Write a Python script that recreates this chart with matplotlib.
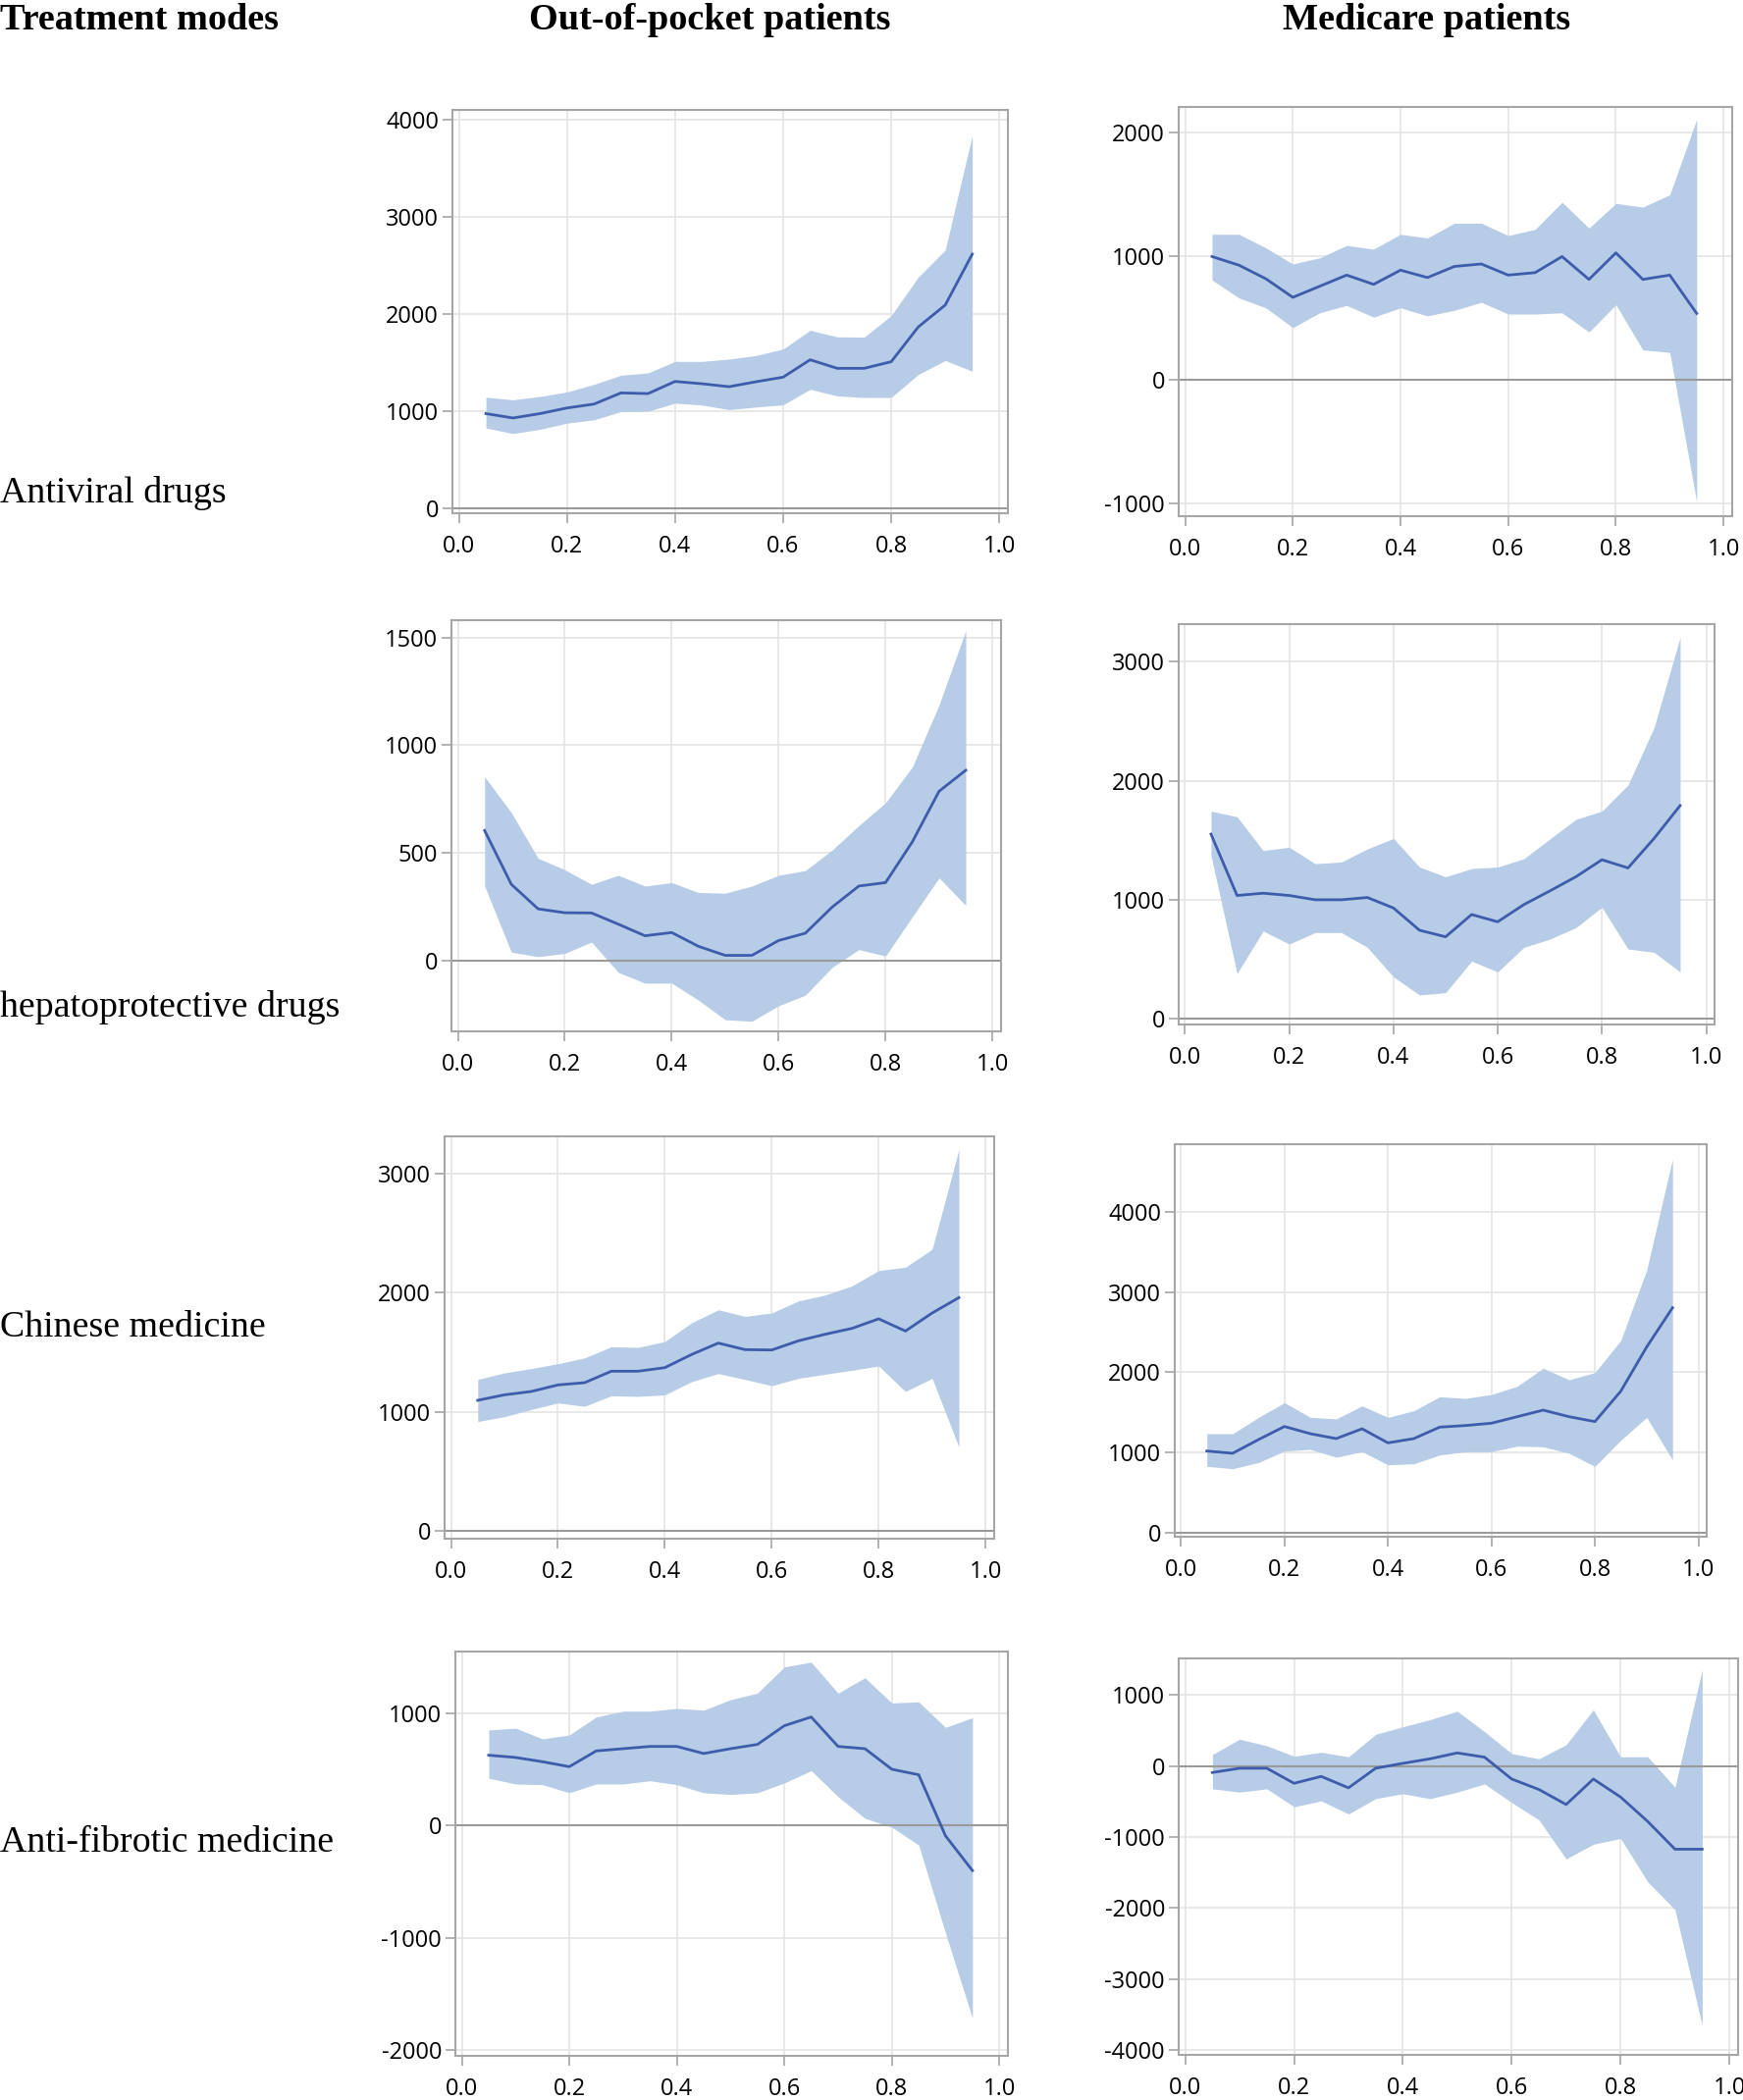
import matplotlib
matplotlib.use("Agg")
import matplotlib.pyplot as plt
from matplotlib.ticker import FormatStrFormatter

plt.rcParams['axes.unicode_minus'] = False

# quantile grid shared by all panels
quantiles = [0.05, 0.10, 0.15, 0.20, 0.25, 0.30, 0.35, 0.40, 0.45, 0.50,
             0.55, 0.60, 0.65, 0.70, 0.75, 0.80, 0.85, 0.90, 0.95]

col_titles = ["Out-of-pocket patients", "Medicare patients"]
row_titles = ["Antiviral drugs", "hepatoprotective drugs", "Chinese medicine", "Anti-fibrotic medicine"]

# Antiviral drugs, out-of-pocket
av_oop_mid = [975, 930, 975, 1033, 1073, 1188, 1181, 1306, 1282, 1252,
              1303, 1350, 1529, 1441, 1441, 1509, 1866, 2092, 2616]
av_oop_hi = [1144, 1117, 1151, 1198, 1276, 1370, 1394, 1512, 1512, 1536,
             1573, 1640, 1833, 1765, 1762, 1984, 2379, 2659, 3840]
av_oop_lo = [827, 770, 813, 877, 911, 996, 999, 1083, 1063, 1016,
             1043, 1066, 1225, 1157, 1141, 1141, 1377, 1522, 1411]

# Antiviral drugs, medicare
av_med_mid = [1000, 930, 820, 670, 760, 850, 775, 890, 830, 920,
              940, 850, 870, 1000, 815, 1030, 815, 850, 540]
av_med_hi = [1180, 1180, 1070, 940, 990, 1090, 1060, 1180, 1150, 1270,
             1270, 1170, 1220, 1440, 1230, 1430, 1400, 1500, 2110]
av_med_lo = [810, 665, 585, 425, 545, 605, 510, 585, 520, 565,
             630, 535, 535, 545, 390, 610, 245, 225, -985]

# Hepatoprotective drugs, out-of-pocket
hp_oop_mid = [603, 353, 239, 221, 220, 168, 114, 129, 65, 23,
              23, 92, 126, 247, 345, 361, 550, 785, 883]
hp_oop_hi = [853, 686, 474, 421, 353, 395, 345, 361, 315, 312,
             345, 395, 417, 512, 626, 732, 898, 1186, 1532]
hp_oop_lo = [345, 38, 17, 32, 85, -56, -106, -106, -185, -276,
             -283, -211, -162, -33, 50, 20, 202, 383, 255]

# Hepatoprotective drugs, medicare
hp_med_mid = [1551, 1036, 1055, 1036, 1000, 1000, 1019, 931, 744, 689,
              876, 815, 959, 1074, 1193, 1336, 1267, 1515, 1791]
hp_med_hi = [1744, 1697, 1413, 1441, 1303, 1317, 1427, 1515, 1275, 1193,
             1262, 1275, 1344, 1510, 1675, 1744, 1964, 2446, 3204]
hp_med_lo = [1372, 380, 738, 628, 725, 725, 600, 353, 201, 220,
             485, 394, 600, 669, 766, 937, 587, 559, 394]

# Chinese medicine, out-of-pocket
cm_oop_mid = [1097, 1143, 1171, 1226, 1245, 1341, 1341, 1371, 1481, 1577,
              1522, 1519, 1596, 1651, 1700, 1780, 1678, 1829, 1958]
cm_oop_hi = [1272, 1327, 1363, 1404, 1453, 1546, 1541, 1590, 1747, 1856,
             1801, 1829, 1930, 1980, 2056, 2185, 2213, 2364, 3200]
cm_oop_lo = [919, 960, 1020, 1075, 1047, 1135, 1130, 1143, 1253, 1322,
             1272, 1220, 1281, 1316, 1349, 1385, 1171, 1281, 705]

# Chinese medicine, medicare
cm_med_mid = [1019, 991, 1162, 1325, 1235, 1174, 1296, 1121, 1174, 1317,
              1337, 1366, 1447, 1529, 1447, 1386, 1765, 2316, 2805]
cm_med_hi = [1235, 1235, 1439, 1622, 1439, 1419, 1582, 1439, 1521, 1696,
             1675, 1724, 1826, 2051, 1908, 1997, 2397, 3273, 4660]
cm_med_lo = [828, 799, 876, 1019, 1040, 942, 1011, 848, 860, 970,
             1011, 1011, 1080, 1072, 991, 828, 1154, 1439, 909]

# Anti-fibrotic medicine, out-of-pocket
af_oop_mid = [625, 605, 567, 523, 663, 683, 703, 703, 640, 683,
              721, 887, 965, 703, 683, 500, 451, -93, -401]
af_oop_hi = [849, 866, 770, 805, 965, 1017, 1017, 1041, 1026, 1119,
             1177, 1410, 1453, 1177, 1314, 1090, 1099, 872, 959]
af_oop_lo = [421, 369, 363, 291, 369, 369, 398, 363, 291, 276,
             291, 378, 488, 256, 64, -15, -174, -959, -1715]

# Anti-fibrotic medicine, medicare
af_med_mid = [-92, -32, -32, -244, -147, -308, -32, 37, 101, 184,
              124, -184, -331, -543, -184, -437, -782, -1172, -1172]
af_med_hi = [161, 377, 285, 138, 193, 129, 446, 552, 653, 772,
             483, 175, 101, 299, 791, 129, 129, -299, 1356]
af_med_lo = [-322, -368, -322, -575, -492, -676, -460, -391, -460, -368,
             -253, -515, -759, -1310, -1103, -1021, -1632, -2023, -3655]

av_oop_ticks = [0, 1000, 2000, 3000, 4000]
av_med_ticks = [-1000, 0, 1000, 2000]
hp_oop_ticks = [0, 500, 1000, 1500]
hp_med_ticks = [0, 1000, 2000, 3000]
cm_oop_ticks = [0, 1000, 2000, 3000]
cm_med_ticks = [0, 1000, 2000, 3000, 4000]
af_oop_ticks = [-2000, -1000, 0, 1000]
af_med_ticks = [-4000, -3000, -2000, -1000, 0, 1000]
x_ticks = [0.0, 0.2, 0.4, 0.6, 0.8, 1.0]

W, H = 1776, 2140
fig = plt.figure(figsize=(W / 100, H / 100), dpi=100)

band_color = '#b7cce6'
line_color = '#3d5cab'
frame_color = '#a6a6a6'
grid_color = '#e4e4e4'

# panels: data, y ticks, y limits, frame box in pixels (left, top, right, bottom)
panels = [
    (av_oop_mid, av_oop_lo, av_oop_hi, av_oop_ticks, (-50, 4100), (461, 112, 1027, 523)),
    (av_med_mid, av_med_lo, av_med_hi, av_med_ticks, (-1100, 2210), (1201, 109, 1765, 526)),
    (hp_oop_mid, hp_oop_lo, hp_oop_hi, hp_oop_ticks, (-330, 1580), (460, 632, 1020, 1051)),
    (hp_med_mid, hp_med_lo, hp_med_hi, hp_med_ticks, (-47, 3314), (1201, 636, 1747, 1044)),
    (cm_oop_mid, cm_oop_lo, cm_oop_hi, cm_oop_ticks, (-63, 3310), (453, 1158, 1013, 1568)),
    (cm_med_mid, cm_med_lo, cm_med_hi, cm_med_ticks, (-49, 4843), (1197, 1166, 1739, 1566)),
    (af_oop_mid, af_oop_lo, af_oop_hi, af_oop_ticks, (-2049, 1547), (464, 1683, 1027, 2095)),
    (af_med_mid, af_med_lo, af_med_hi, af_med_ticks, (-4069, 1515), (1201, 1690, 1771, 2094)),
]

for mid, lo, hi, yticks, ylim, box in panels:
    l, t, r, b = box
    ax = fig.add_axes([l / W, 1 - b / H, (r - l) / W, (b - t) / H])
    ax.fill_between(quantiles, lo, hi, color=band_color, linewidth=0, zorder=2)
    ax.plot(quantiles, mid, color=line_color, linewidth=2.0, zorder=3)
    ax.axhline(0, color='#9a9a9a', linewidth=1.5, zorder=2.5)
    ax.set_xlim(-0.012, 1.016)
    ax.set_ylim(*ylim)
    ax.set_xticks(x_ticks)
    ax.set_yticks(yticks)
    ax.xaxis.set_major_formatter(FormatStrFormatter('%.1f'))
    ax.grid(True, color=grid_color, linewidth=1.2, zorder=0)
    ax.set_axisbelow(True)
    for sp in ax.spines.values():
        sp.set_color(frame_color)
        sp.set_linewidth(1.5)
    ax.tick_params(axis='both', direction='out', length=7, width=1.2,
                   color=frame_color, labelsize=17, labelcolor='black')
    ax.tick_params(axis='x', pad=9)
    ax.tick_params(axis='y', pad=3)
    for lab in ax.get_xticklabels() + ax.get_yticklabels():
        lab.set_family('Open Sans')

# column and row headings
fig.text(0 / W, 1 - 20 / H, "Treatment modes", family='Liberation Serif',
         weight='bold', fontsize=27.5, ha='left', va='center')
fig.text(723 / W, 1 - 20 / H, col_titles[0], family='Liberation Serif',
         weight='bold', fontsize=27.5, ha='center', va='center')
fig.text(1454 / W, 1 - 20 / H, col_titles[1], family='Liberation Serif',
         weight='bold', fontsize=27.5, ha='center', va='center')

row_y = [503, 1027, 1353, 1878]
for name, yy in zip(row_titles, row_y):
    fig.text(0, 1 - yy / H, name, family='Liberation Serif', fontsize=27.3,
             ha='left', va='center')

fig.savefig('out.png', dpi=100, facecolor='white')
